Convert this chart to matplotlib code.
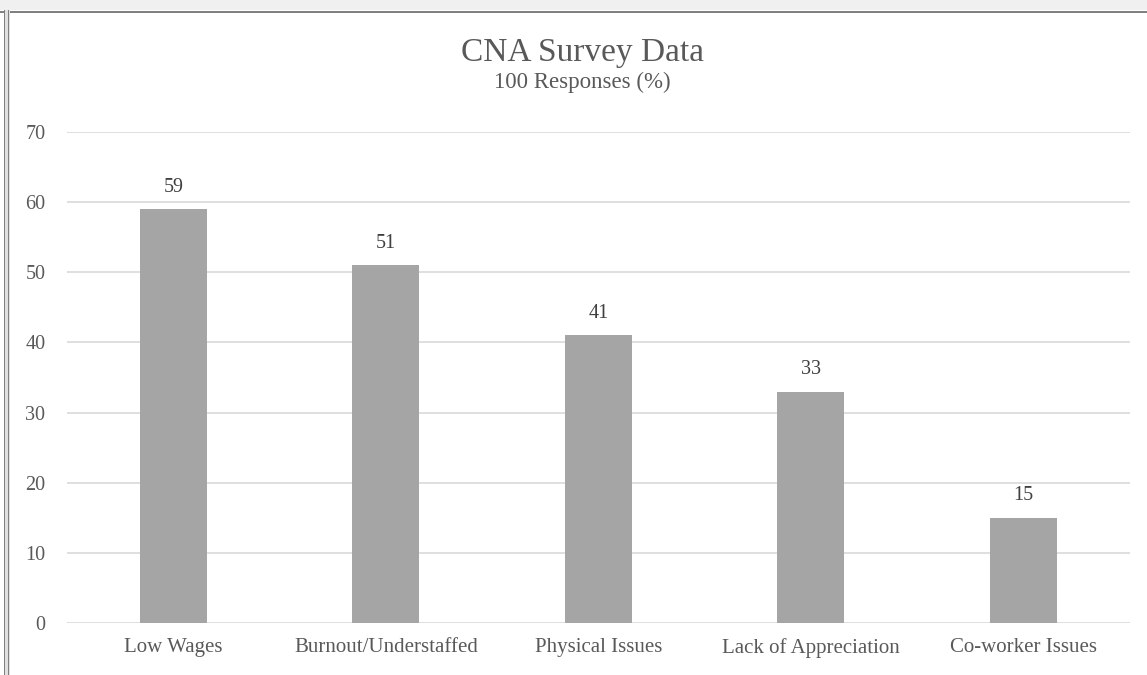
import matplotlib.pyplot as plt
from matplotlib.patches import Rectangle

categories = ["Low Wages", "Burnout/Understaffed", "Physical Issues",
              "Lack of Appreciation", "Co-worker Issues"]
responses = [59, 51, 41, 33, 15]
y_ticks = [0, 10, 20, 30, 40, 50, 60, 70]

text_color = "#595959"
plt.rcParams["font.family"] = ["Liberation Serif", "DejaVu Serif"]

fig = plt.figure(figsize=(11.47, 6.75), dpi=100)
ax = fig.add_axes([0.0584, 0.077, 0.9266, 0.7274])

x = range(len(categories))
bars = ax.bar(x, responses, width=0.315, color="#A5A5A5", zorder=3)
for b, v in zip(bars, responses):
    ax.annotate(str(v), (b.get_x() + b.get_width() / 2, v), xytext=(0, 9),
                textcoords="offset points", ha="center", va="bottom",
                fontsize=14.5, color="#404040")

ax.set_xlim(-0.5, len(categories) - 0.5)
ax.set_ylim(0, 70)
ax.set_yticks(y_ticks)
ax.set_xticks(list(x))
ax.set_xticklabels(categories)
ax.yaxis.grid(True, color="#D9D9D9", linewidth=1.2, zorder=0)
for s in ax.spines.values():
    s.set_visible(False)
ax.tick_params(length=0, colors=text_color)
ax.tick_params(axis="y", pad=15.5, labelsize=14.5)
ax.tick_params(axis="x", pad=11, labelsize=15)

fig.text(0.508, 0.909, "CNA Survey Data", ha="center", va="baseline",
         fontsize=24, color=text_color)
fig.text(0.508, 0.869, "100 Responses (%)", ha="center", va="baseline",
         fontsize=16.5, color=text_color)

# outer frame: light strip on top and a double rule on the left
fig.patches.append(Rectangle((0, 1 - 10 / 675), 1, 10 / 675, transform=fig.transFigure,
                             facecolor="#F0F0F0", edgecolor="none"))
fig.patches.append(Rectangle((0, 1 - 13 / 675), 1, 2.5 / 675, transform=fig.transFigure,
                             facecolor="#808080", edgecolor="none"))
fig.patches.append(Rectangle((3.5 / 1147, 0), 6 / 1147, 1 - 10 / 675, transform=fig.transFigure,
                             facecolor="#E0E0E0", edgecolor="none"))
fig.patches.append(Rectangle((3.5 / 1147, 0), 1.5 / 1147, 1 - 10 / 675, transform=fig.transFigure,
                             facecolor="#808080", edgecolor="none"))
fig.patches.append(Rectangle((7.8 / 1147, 0), 1.5 / 1147, 1 - 10 / 675, transform=fig.transFigure,
                             facecolor="#808080", edgecolor="none"))

fig.savefig("out.png", dpi=100)
